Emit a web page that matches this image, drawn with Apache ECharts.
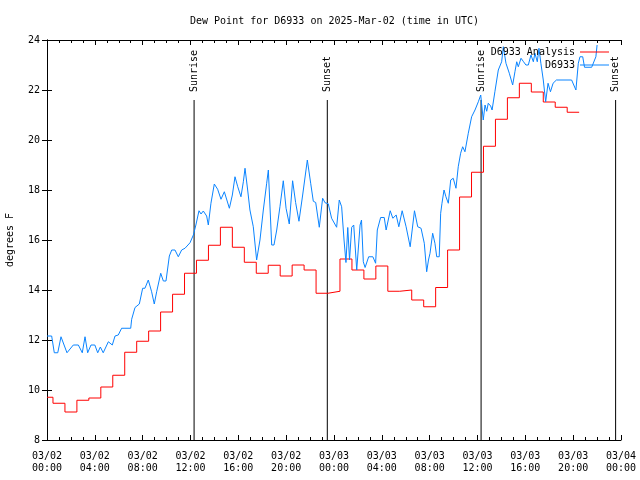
<!DOCTYPE html>
<html>
<head>
<meta charset="utf-8">
<script src="https://cdn.jsdelivr.net/npm/echarts@6/dist/echarts.min.js"></script>
<style>html,body{margin:0;padding:0;background:#fff}#c{width:640px;height:480px}</style>
</head>
<body>
<div id="c"></div>
<script>
// ---- data (hours since 03/02 00:00 UTC) ----
var xTickLabels = ['03/02\n00:00','03/02\n04:00','03/02\n08:00','03/02\n12:00','03/02\n16:00','03/02\n20:00',
  '03/03\n00:00','03/03\n04:00','03/03\n08:00','03/03\n12:00','03/03\n16:00','03/03\n20:00','03/04\n00:00'];

// Analysis: hourly values, hour 0..44
var analysisHourly = [9.71,9.47,9.12,9.59,9.68,10.12,10.59,11.51,11.95,12.36,13.12,13.83,14.67,15.19,15.79,16.51,
  15.71,15.11,14.67,14.99,14.56,15.0,14.8,13.87,13.95,15.24,14.8,14.44,14.96,13.95,14.0,13.6,13.33,14.1,15.6,
  17.72,18.71,19.75,20.83,21.69,22.27,21.92,21.52,21.31,21.11];

// Observations: times (hours) and values
var obsTimes = [0,0.39,0.61,0.9,1.17,1.67,2.2,2.62,2.95,3.18,3.4,3.68,4.0,4.24,4.46,4.7,5.13,5.46,5.69,5.96,6.24,6.52,7.0,
  7.08,7.36,7.72,8.0,8.19,8.47,8.75,8.97,9.17,9.51,9.73,9.95,10.23,10.43,10.7,10.98,11.26,11.54,11.96,12.24,12.45,
  12.71,12.88,13.07,13.35,13.49,13.71,13.99,14.27,14.55,14.83,15.25,15.5,15.72,15.95,16.22,16.42,16.56,16.78,16.97,17.25,
  17.53,17.81,18.09,18.37,18.51,18.79,18.98,19.21,19.48,19.76,19.99,20.26,20.54,20.79,21.07,21.38,21.77,22.05,22.27,22.47,
  22.77,23.05,23.25,23.52,23.8,24.22,24.44,24.64,24.84,25.0,25.15,25.3,25.48,25.65,25.9,26.18,26.3,26.45,26.6,26.9,27.25,
  27.48,27.62,27.9,28.2,28.36,28.7,28.92,29.2,29.42,29.7,30.03,30.37,30.73,31.0,31.28,31.55,31.75,31.9,32.03,32.25,32.44,
  32.59,32.8,32.92,33.03,33.2,33.36,33.56,33.76,33.97,34.2,34.39,34.59,34.76,34.95,35.23,35.51,35.79,36.07,36.27,36.48,
  36.63,36.77,36.9,37.1,37.22,37.46,37.74,38.02,38.16,38.38,38.66,38.94,39.13,39.28,39.41,39.64,39.85,40.05,40.25,40.47,
  40.67,40.8,41.0,41.14,41.3,41.5,41.7,41.9,42.1,42.32,42.6,43.87,44.23,44.43,44.57,44.8,44.95,45.55,45.9,46.0];
var obsValues = [12.16,12.16,11.49,11.49,12.13,11.49,11.8,11.8,11.49,12.13,11.49,11.8,11.8,11.49,11.72,11.49,11.93,11.8,12.16,12.2,12.47,12.47,12.47,
  12.83,13.3,13.44,14.07,14.07,14.4,13.93,13.44,13.93,14.67,14.36,14.36,15.36,15.6,15.6,15.33,15.6,15.67,15.89,16.2,16.6,
  17.17,17.04,17.16,16.96,16.6,17.47,18.24,18.03,17.63,17.93,17.27,17.8,18.53,18.13,17.73,18.33,18.87,18.0,17.2,16.53,
  15.2,16.0,17.2,18.27,18.8,15.8,15.8,16.4,17.33,18.37,17.27,16.64,18.37,17.5,16.75,17.8,19.2,18.27,17.55,17.5,
  16.51,17.67,17.49,17.45,16.87,16.51,17.6,17.33,16.0,15.1,16.5,15.2,16.51,16.6,14.8,16.6,16.8,15.13,14.9,15.33,15.33,
  15.07,16.4,16.9,16.9,16.4,17.17,16.87,17.0,16.53,17.17,16.53,15.73,17.17,16.53,16.47,15.87,14.73,15.2,15.47,16.27,15.87,
  15.33,15.33,17.07,17.47,18.0,17.73,17.47,18.4,18.47,18.07,18.93,19.47,19.73,19.53,20.27,20.93,21.2,21.53,21.8,20.8,
  21.4,21.15,21.47,21.36,21.2,21.95,22.8,23.13,23.73,23.07,22.67,22.2,22.73,23.13,22.93,23.27,23.13,23.0,23.0,23.4,
  23.13,23.47,23.13,23.67,23.07,22.4,21.53,22.27,21.93,22.27,22.4,22.4,22.0,23.07,23.33,23.33,22.91,22.91,23.33,23.8];

var eventTimes = [12.3, 23.44, 36.3, 47.55];
var eventNames = ['Sunrise', 'Sunset', 'Sunrise', 'Sunset'];
var eventLineTop = 21.6;

// ---- chart ----
var FONT = 'DejaVu Sans Mono';
var chart = echarts.init(document.getElementById('c'), null, {renderer: 'canvas'});

var analysisData = analysisHourly.map(function (v, h) { return [Math.max(0, h - 0.5), v]; });
analysisData.push([analysisHourly.length - 0.5, analysisHourly[analysisHourly.length - 1]]);
var obsData = obsTimes.map(function (t, i) { return [t, obsValues[i]]; });

var eventSeries = eventTimes.map(function (t, i) {
  return {
    type: 'line', name: 'ev' + i, silent: true, z: 1,
    symbol: 'circle', symbolSize: 0, showSymbol: true,
    lineStyle: {color: '#000', width: 1},
    itemStyle: {color: '#000'},
    data: [
      [t, 8],
      {value: [t, eventLineTop], label: {
        show: true, formatter: eventNames[i], position: 'top', distance: 8,
        rotate: 90, align: 'left', verticalAlign: 'middle',
        fontFamily: FONT, fontSize: 10, color: '#000'
      }}
    ]
  };
});

var axisCommon = {
  type: 'value', min: 0, max: 48, interval: 4,
  axisLine: {show: true, lineStyle: {color: '#000', width: 1}},
  axisTick: {show: true, inside: true, length: 5, lineStyle: {color: '#000'}},
  minorTick: {show: true, splitNumber: 4, length: 3, lineStyle: {color: '#000'}},
  splitLine: {show: false}
};
var yCommon = {
  type: 'value', min: 8, max: 24, interval: 2,
  axisLine: {show: true, lineStyle: {color: '#000', width: 1}},
  axisTick: {show: true, inside: true, length: 5, lineStyle: {color: '#000'}},
  splitLine: {show: false}
};

chart.setOption({
  animation: false,
  backgroundColor: '#fff',
  title: {
    text: 'Dew Point for D6933 on 2025-Mar-02 (time in UTC)',
    left: 185, top: 11,
    textStyle: {fontFamily: FONT, fontSize: 10, fontWeight: 'normal', color: '#000'}
  },
  legend: {
    orient: 'vertical', right: 26, top: 42, itemGap: 3,
    align: 'right', itemWidth: 29, itemHeight: 1, icon: 'rect',
    data: ['D6933 Analysis', 'D6933'],
    textStyle: {fontFamily: FONT, fontSize: 10, color: '#000', width: 88, align: 'right', padding: [0, 0, 0, 0]}
  },
  grid: {left: 47, right: 19, top: 40, bottom: 40, containLabel: false, outerBoundsMode: 'none'},
  xAxis: [
    Object.assign({}, axisCommon, {
      position: 'bottom',
      axisLabel: {
        fontFamily: FONT, fontSize: 10, color: '#000', margin: 10, lineHeight: 12,
        formatter: function (v) { return xTickLabels[Math.round(v / 4)]; }
      }
    }),
    Object.assign({}, axisCommon, {position: 'top', axisLabel: {show: false}})
  ],
  yAxis: [
    Object.assign({}, yCommon, {
      position: 'left',
      name: 'degrees F', nameLocation: 'middle', nameRotate: 90, nameGap: 32,
      nameTextStyle: {fontFamily: FONT, fontSize: 10, color: '#000'},
      axisLabel: {fontFamily: FONT, fontSize: 10, color: '#000', margin: 7}
    }),
    Object.assign({}, yCommon, {position: 'right', axisLabel: {show: false}})
  ],
  series: eventSeries.concat([
    {
      type: 'line', name: 'D6933 Analysis', step: 'end', symbol: 'none', z: 2,
      lineStyle: {color: '#ff0000', width: 1}, itemStyle: {color: '#ff0000'},
      data: analysisData
    },
    {
      type: 'line', name: 'D6933', symbol: 'none', z: 3,
      lineStyle: {color: '#0a84ff', width: 1}, itemStyle: {color: '#0a84ff'},
      data: obsData
    }
  ])
});
</script>
</body>
</html>
